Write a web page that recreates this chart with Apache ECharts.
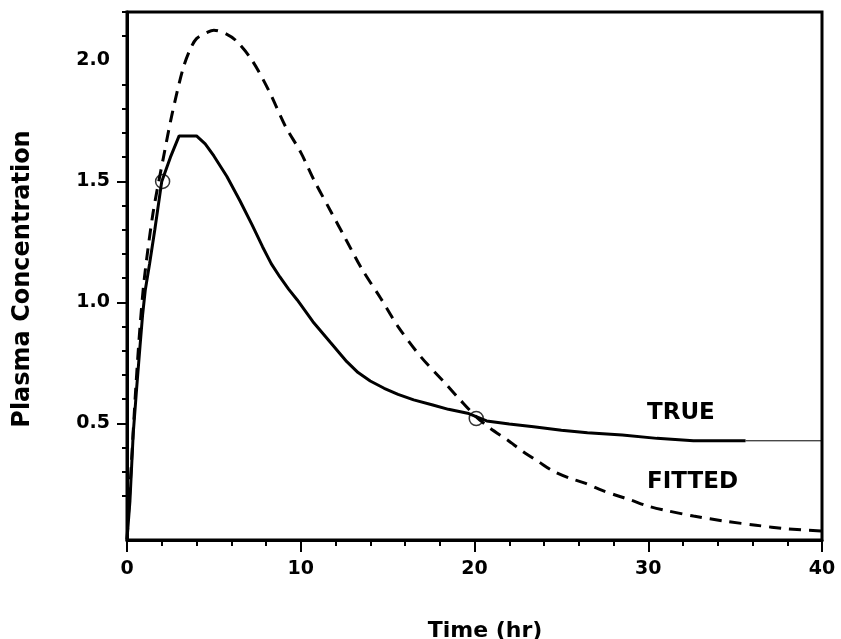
<!DOCTYPE html>
<html>
<head>
<meta charset="utf-8">
<script src="https://cdn.jsdelivr.net/npm/echarts@6/dist/echarts.min.js"></script>
<style>html,body{margin:0;padding:0;background:#fff;}#c{width:841px;height:639px;}</style>
</head>
<body>
<div id="c"></div>
<script>
// ---- data ----
var trueTime = [0, 0.17, 0.36, 0.55, 0.75, 0.9, 1.05, 1.3, 1.6, 2.0, 2.5, 3.0, 3.5, 4.0, 4.5, 5.0, 5.75, 6.5, 7.2, 7.8, 8.3, 8.8, 9.3, 9.8, 10.7, 11.7, 12.65, 13.3, 14.0, 14.8, 15.6, 16.5, 17.6, 18.5, 19.6, 20.7, 22.0, 23.4, 25.0, 26.5, 28.5, 30.5, 32.6, 35.6];
var trueConc = [0.02, 0.18, 0.46, 0.64, 0.82, 0.95, 1.05, 1.16, 1.30, 1.50, 1.60, 1.688, 1.688, 1.688, 1.655, 1.605, 1.52, 1.42, 1.32, 1.23, 1.16, 1.105, 1.055, 1.01, 0.92, 0.835, 0.755, 0.71, 0.675, 0.645, 0.62, 0.597, 0.576, 0.558, 0.542, 0.51, 0.497, 0.486, 0.472, 0.461, 0.452, 0.438, 0.428, 0.428];
var trueTailTime = [35.6, 40];
var trueTailConc = [0.428, 0.428];
var fitTime = [0, 0.25, 0.5, 0.75, 1.0, 1.5, 2.1, 2.6, 3.2, 3.6, 4.0, 4.6, 5.0, 5.7, 6.3, 7.2, 8.2, 9.1, 10.0, 10.8, 11.7, 12.6, 13.5, 14.6, 15.6, 16.9, 18.4, 19.2, 20.1, 20.9, 21.9, 22.8, 23.7, 24.5, 25.5, 26.4, 27.2, 28.1, 29.0, 29.9, 30.9, 32.6, 34.5, 36.2, 38.0, 40];
var fitConc = [0.02, 0.33, 0.64, 0.90, 1.10, 1.37, 1.60, 1.78, 1.96, 2.04, 2.09, 2.115, 2.125, 2.11, 2.08, 2.00, 1.87, 1.73, 1.62, 1.50, 1.38, 1.26, 1.14, 1.017, 0.90, 0.776, 0.659, 0.595, 0.527, 0.48, 0.431, 0.383, 0.341, 0.304, 0.273, 0.252, 0.227, 0.204, 0.183, 0.16, 0.142, 0.117, 0.095, 0.079, 0.064, 0.055];
var obsTime = [2.05, 20.1];
var obsConc = [1.5, 0.52];
var yLabelValues = [0.5, 1.0, 1.5, 2.0];
var yMajorTicks = [0.5, 1.0, 1.5];
var yMinorTicks = [0.2, 0.3, 0.4, 0.6, 0.7, 0.8, 0.9, 1.1, 1.2, 1.3, 1.4, 1.6, 1.7, 1.8, 1.9, 2.1, 2.2];
var xAxisTitle = 'Time (hr)';
var yAxisTitle = 'Plasma Concentration';

function zip(a, b) { return a.map(function (v, i) { return [v, b[i]]; }); }

var FONT = 'DejaVu Sans';
var chart = echarts.init(document.getElementById('c'), null, { renderer: 'canvas' });
chart.setOption({
  animation: false,
  backgroundColor: '#fff',
  grid: { left: 127, right: 19, top: 12, bottom: 99, show: true, borderColor: '#000', borderWidth: 3, backgroundColor: 'transparent' },
  xAxis: {
    type: 'value', min: 0, max: 40, interval: 10,
    axisLine: { show: true, lineStyle: { color: '#000', width: 3 } },
    axisTick: { show: true, length: 12, lineStyle: { color: '#000', width: 2 } },
    minorTick: { show: true, splitNumber: 5, length: 6, lineStyle: { color: '#000', width: 2 } },
    splitLine: { show: false },
    axisLabel: { color: '#000', fontFamily: FONT, fontWeight: 'bold', fontSize: 19, margin: 20 }
  },
  yAxis: [{
    type: 'value', min: 0.018, max: 2.2,
    axisLine: { show: true, lineStyle: { color: '#000', width: 3 } },
    axisTick: { show: true, length: 10, customValues: yMajorTicks, lineStyle: { color: '#000', width: 2 } },
    splitLine: { show: false },
    axisLabel: { color: '#000', fontFamily: FONT, fontWeight: 'bold', fontSize: 19, margin: 17,
      customValues: yLabelValues, formatter: function (v) { return v.toFixed(1); } }
  }, {
    type: 'value', min: 0.018, max: 2.2, position: 'left',
    axisLine: { show: false },
    axisTick: { show: true, length: 5, customValues: yMinorTicks, lineStyle: { color: '#000', width: 2 } },
    splitLine: { show: false },
    axisLabel: { show: false }
  }],
  series: [
    { type: 'line', name: 'FITTED', data: zip(fitTime, fitConc), symbol: 'none', smooth: 0.3,
      lineStyle: { color: '#000', width: 3, type: [12, 8] } },
    { type: 'line', name: 'TRUE', data: zip(trueTime, trueConc), symbol: 'none',
      lineStyle: { color: '#000', width: 3 } },
    { type: 'line', name: 'TRUE tail', data: zip(trueTailTime, trueTailConc), symbol: 'none',
      lineStyle: { color: '#000', width: 1 } },
    { type: 'scatter', name: 'observed', data: zip(obsTime, obsConc), symbol: 'circle', symbolSize: 14,
      itemStyle: { color: 'rgba(0,0,0,0)', borderColor: '#000', borderWidth: 1.5 }, z: 5 }
  ],
  graphic: [
    { type: 'text', x: 23, y: 279, rotation: Math.PI / 2,
      style: { text: yAxisTitle, fill: '#000', font: 'bold 24px "DejaVu Sans"', align: 'center', verticalAlign: 'middle' } },
    { type: 'text', x: 485, y: 631,
      style: { text: xAxisTitle, fill: '#000', font: 'bold 22px "DejaVu Sans"', align: 'center', verticalAlign: 'middle' } },
    { type: 'text', x: 647, y: 413,
      style: { text: 'TRUE', fill: '#000', font: 'bold 23px "DejaVu Sans"', align: 'left', verticalAlign: 'middle' } },
    { type: 'text', x: 647, y: 482,
      style: { text: 'FITTED', fill: '#000', font: 'bold 23px "DejaVu Sans"', align: 'left', verticalAlign: 'middle' } }
  ]
});
</script>
</body>
</html>
